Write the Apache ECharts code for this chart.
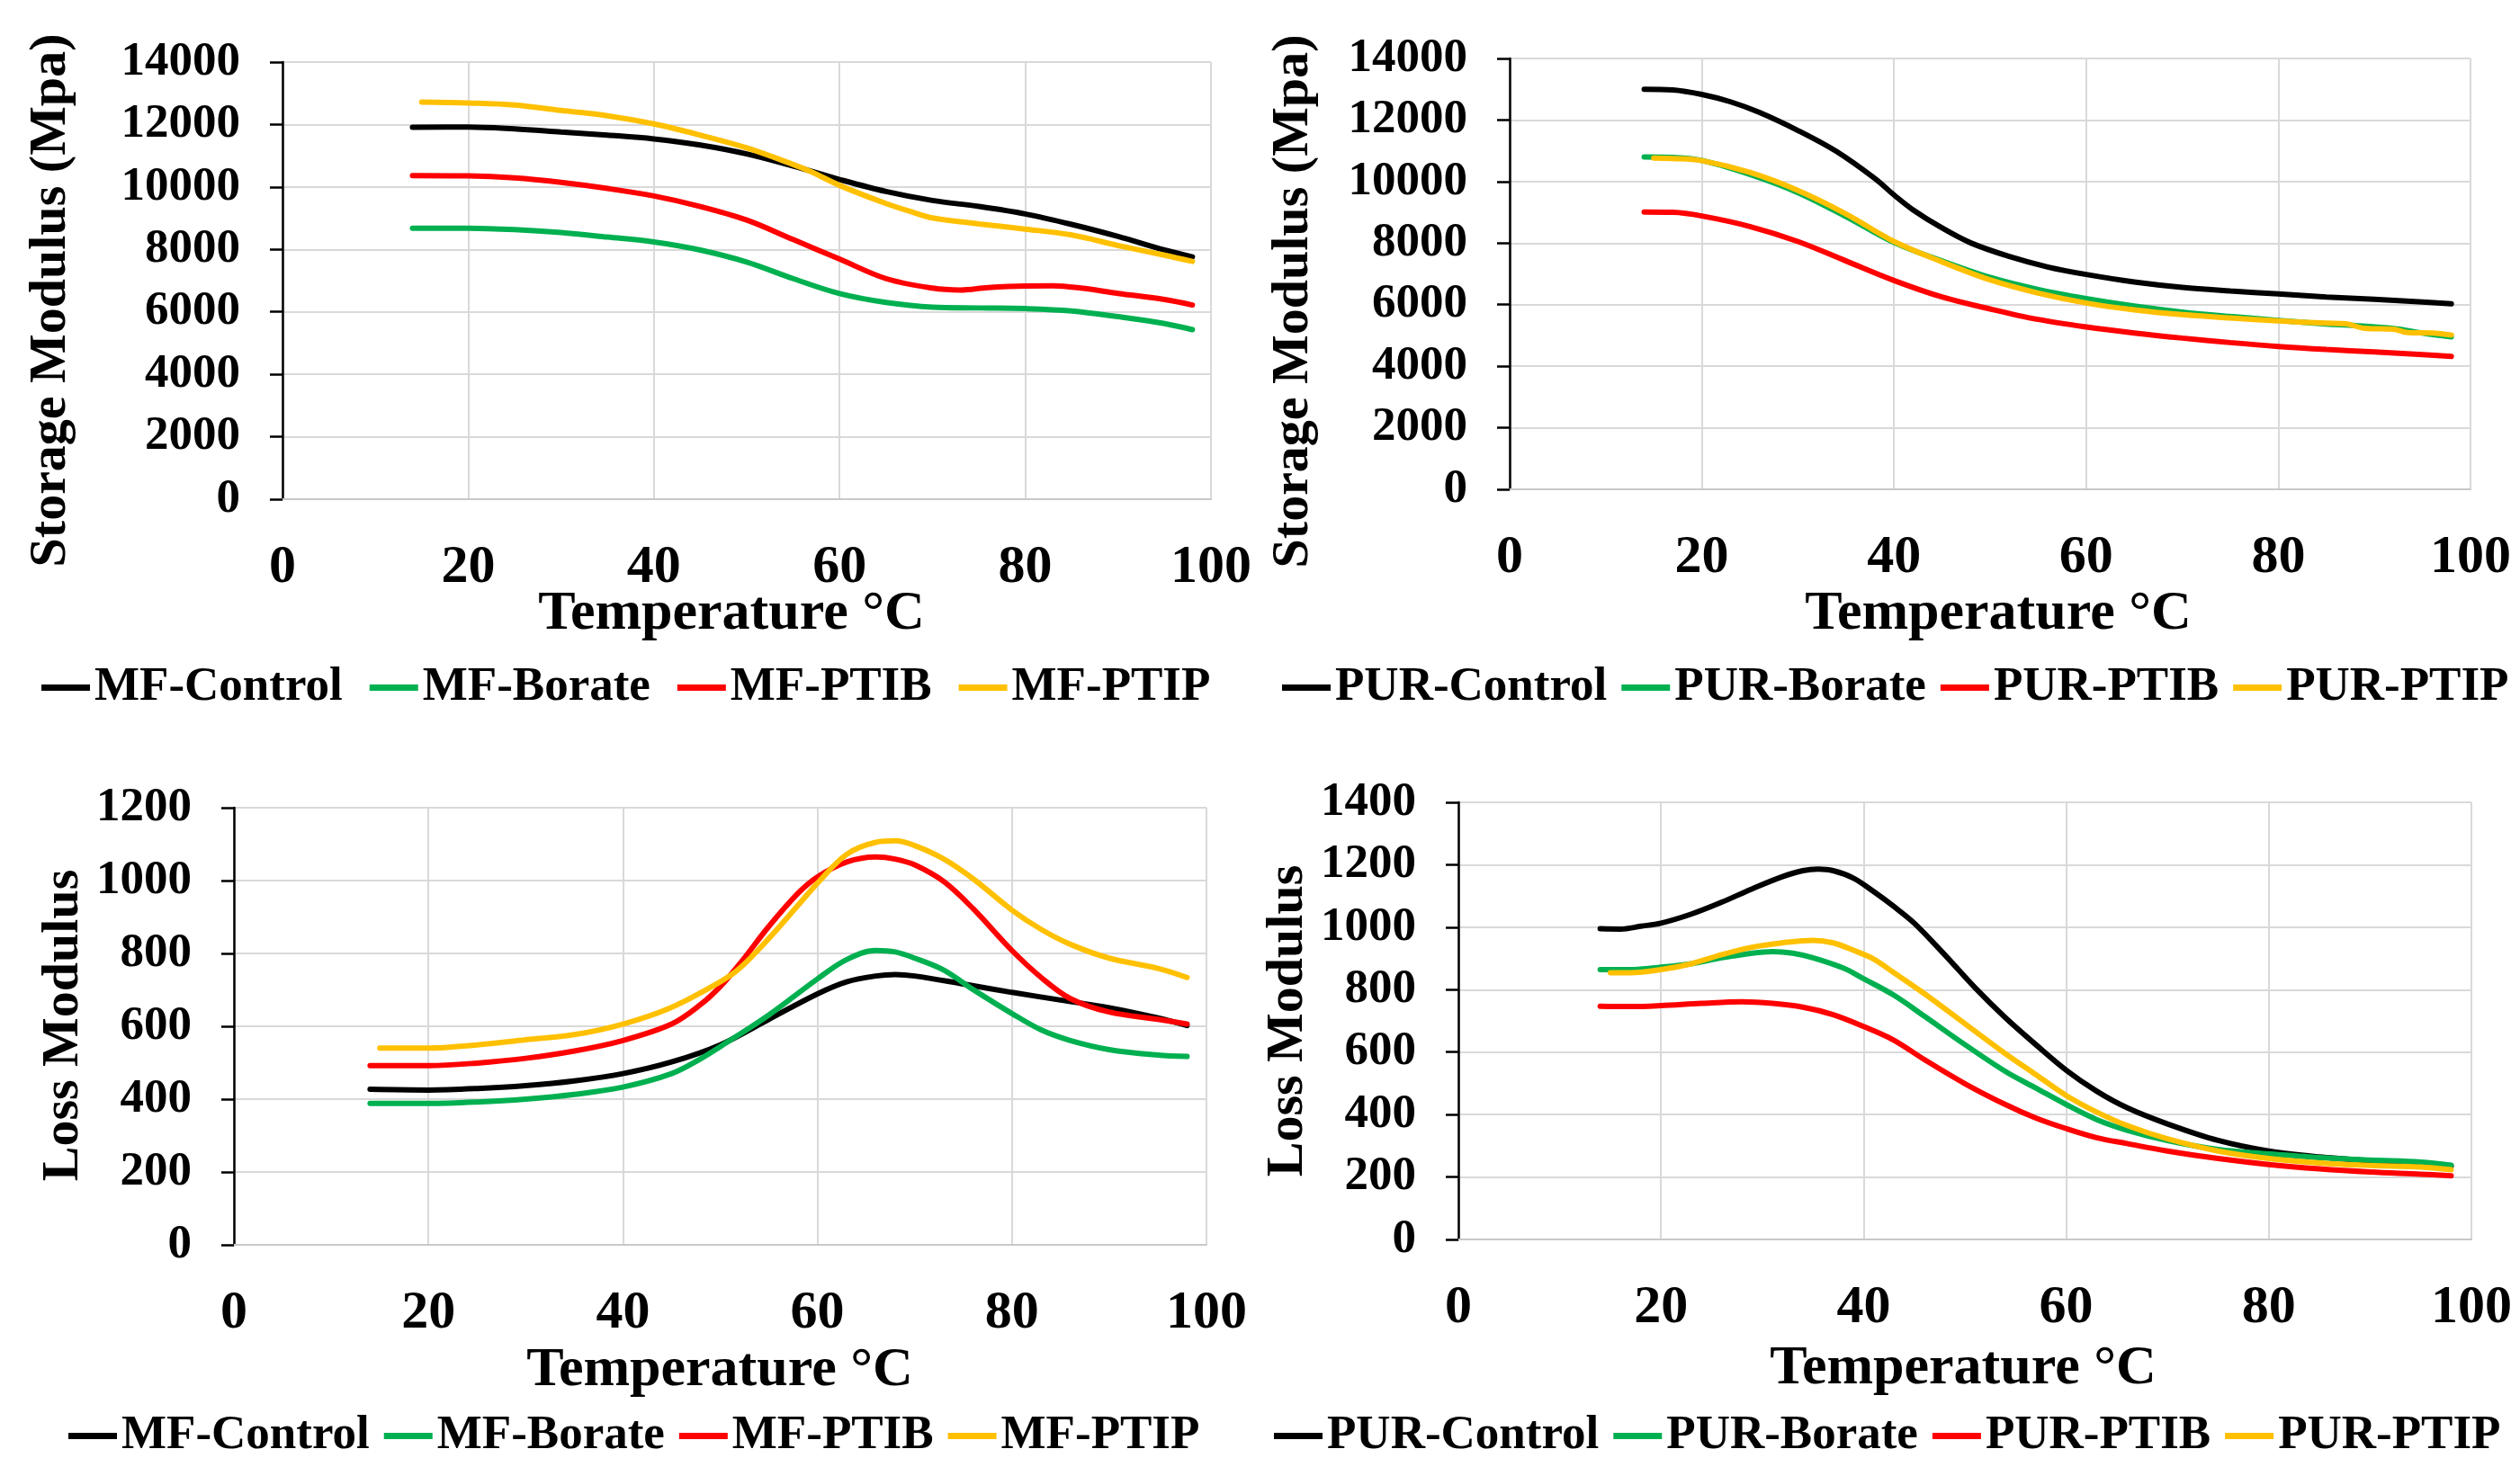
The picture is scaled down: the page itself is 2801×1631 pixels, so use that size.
<!DOCTYPE html>
<html>
<head>
<meta charset="utf-8">
<script src="https://cdn.jsdelivr.net/npm/echarts@6/dist/echarts.min.js"></script>
<style>
html,body{margin:0;padding:0;background:#fff;}
#chart{width:2801px;height:1631px;}
</style>
</head>
<body>
<div id="chart"></div>
<script>
// ---------- tick labels / axes ----------
const xTicks = [0, 20, 40, 60, 80, 100];
const storageTicks = [0, 2000, 4000, 6000, 8000, 10000, 12000, 14000];
const lossMFTicks = [0, 200, 400, 600, 800, 1000, 1200];
const lossPURTicks = [0, 200, 400, 600, 800, 1000, 1200, 1400];

const xTitle = 'Temperature °C';
const storageTitle = 'Storage Modulus (Mpa)';
const lossTitle = 'Loss Modulus';

const mfNames = ['MF-Control', 'MF-Borate', 'MF-PTIB', 'MF-PTIP'];
const purNames = ['PUR-Control', 'PUR-Borate', 'PUR-PTIB', 'PUR-PTIP'];

// ---------- Panel 1: MF storage modulus ----------
const sMFControlT = [14, 20, 25, 30, 35, 40, 45, 50, 55, 60, 65, 70, 75, 80, 85, 90, 95, 98];
const sMFControl  = [11910, 11920, 11860, 11760, 11660, 11540, 11345, 11060, 10670, 10240, 9855, 9567, 9375, 9135, 8800, 8413, 7980, 7760];
const sMFBorateT  = [14, 20, 25, 30, 35, 40, 45, 50, 55, 60, 65, 70, 75, 80, 85, 90, 95, 98];
const sMFBorate   = [8680, 8680, 8635, 8540, 8395, 8240, 7980, 7595, 7065, 6585, 6300, 6150, 6125, 6105, 6030, 5845, 5625, 5430];
const sMFPTIBT    = [14, 20, 25, 30, 35, 40, 45, 50, 55, 60, 65, 70, 73, 76, 80, 83, 86, 90, 95, 98];
const sMFPTIB     = [10365, 10355, 10290, 10145, 9950, 9710, 9375, 8940, 8315, 7690, 7065, 6760, 6700, 6780, 6830, 6835, 6760, 6590, 6395, 6220];
const sMFPTIPT    = [15, 20, 25, 30, 35, 40, 45, 50, 55, 57, 60, 65, 68, 70, 75, 80, 85, 90, 95, 98];
const sMFPTIP     = [12720, 12690, 12625, 12450, 12280, 12020, 11660, 11250, 10720, 10480, 10050, 9470, 9180, 9010, 8817, 8650, 8460, 8125, 7815, 7615];

// ---------- Panel 2: PUR storage modulus ----------
const sPURControlT = [14, 17, 20, 23, 26, 30, 34, 38, 40, 42, 45, 48, 52, 56, 60, 65, 70, 75, 80, 85, 90, 95, 98];
const sPURControl  = [13000, 12977, 12830, 12590, 12246, 11660, 10980, 10100, 9565, 9077, 8492, 8005, 7566, 7225, 6981, 6737, 6561, 6445, 6347, 6250, 6172, 6084, 6025];
const sPURBorateT  = [14, 17, 20, 25, 30, 35, 40, 45, 50, 55, 60, 65, 70, 75, 80, 85, 88, 92, 95, 98];
const sPURBorate   = [10800, 10783, 10686, 10230, 9640, 8860, 8020, 7420, 6884, 6494, 6200, 5957, 5762, 5616, 5489, 5372, 5323, 5226, 5080, 4953];
const sPURPTIBT    = [14, 17, 20, 25, 30, 35, 40, 45, 50, 55, 60, 65, 70, 75, 80, 85, 90, 95, 98];
const sPURPTIB     = [9009, 9000, 8882, 8541, 8053, 7420, 6786, 6250, 5860, 5519, 5275, 5080, 4914, 4768, 4641, 4544, 4466, 4378, 4320];
const sPURPTIPT    = [15, 17, 20, 25, 30, 35, 40, 45, 50, 55, 60, 65, 70, 75, 80, 85, 87, 89, 92, 93.5, 96, 98];
const sPURPTIP     = [10764, 10750, 10680, 10296, 9711, 8950, 8053, 7390, 6805, 6376, 6055, 5830, 5675, 5567, 5470, 5400, 5380, 5230, 5200, 5090, 5080, 5010];

// ---------- Panel 3: MF loss modulus ----------
const lMFControlT = [14, 20, 25, 30, 35, 40, 45, 50, 55, 60, 63, 66, 68, 70, 75, 80, 85, 90, 95, 98];
const lMFControl  = [427, 425, 429, 437, 450, 470, 502, 549, 619, 689, 722, 738, 742, 738, 716, 693, 672, 651, 623, 602];
const lMFBorateT  = [14, 20, 25, 30, 35, 40, 45, 48, 50, 55, 60, 63, 66, 68, 70, 73, 76, 80, 83, 86, 90, 95, 98];
const lMFBorate   = [388, 388, 392, 400, 413, 433, 470, 511, 544, 631, 730, 783, 808, 804, 787, 754, 701, 635, 590, 561, 536, 521, 517];
const lMFPTIBT    = [14, 20, 25, 30, 35, 40, 45, 48, 50, 52, 55, 58, 60, 63, 66, 68, 70, 73, 76, 80, 83, 86, 90, 95, 98];
const lMFPTIB     = [492, 492, 499, 512, 532, 561, 606, 660, 709, 771, 874, 965, 1010, 1051, 1065, 1059, 1043, 997, 923, 808, 734, 676, 639, 619, 606];
const lMFPTIPT    = [15, 20, 25, 30, 35, 40, 45, 50, 52, 55, 58, 60, 63, 66, 68, 70, 73, 76, 80, 83, 86, 90, 95, 98];
const lMFPTIP     = [540, 540, 549, 563, 577, 606, 652, 722, 759, 841, 932, 993, 1072, 1105, 1109, 1096, 1059, 1005, 919, 866, 825, 787, 759, 734];

// ---------- Panel 4: PUR loss modulus ----------
const lPURControlT = [14, 16, 18, 20, 23, 26, 29, 32, 34, 35.5, 37, 39, 41, 43, 45, 48, 51, 54, 57, 60, 63, 66, 70, 75, 80, 85, 90, 95, 98];
const lPURControl  = [995, 994, 1003, 1013, 1042, 1080, 1123, 1162, 1181, 1186, 1181, 1157, 1114, 1066, 1013, 912, 806, 710, 624, 542, 475, 422, 370, 317, 283, 264, 252, 242, 235];
const lPURBorateT  = [14, 17, 20, 23, 26, 29, 31, 33, 35, 38, 40, 43, 46, 50, 54, 57, 60, 63, 66, 70, 75, 80, 85, 90, 95, 98];
const lPURBorate   = [864, 864, 872, 883, 902, 917, 922, 917, 902, 869, 835, 782, 715, 624, 538, 485, 432, 384, 350, 317, 288, 274, 262, 254, 248, 238];
const lPURPTIBT    = [14, 17, 20, 24, 28, 31, 34, 37, 40, 43, 46, 50, 54, 57, 60, 63, 66, 70, 75, 80, 85, 90, 95, 98];
const lPURPTIB     = [747, 746, 749, 756, 761, 756, 744, 720, 682, 638, 576, 499, 432, 389, 355, 326, 307, 283, 259, 240, 226, 216, 209, 204];
const lPURPTIPT    = [15, 17, 20, 23, 26, 29, 32, 35, 37, 39, 41, 43, 46, 50, 54, 57, 60, 63, 66, 70, 75, 80, 85, 90, 95, 98];
const lPURPTIP     = [854, 854, 864, 883, 912, 936, 950, 958, 950, 926, 898, 854, 787, 691, 595, 528, 461, 408, 365, 322, 283, 259, 245, 237, 232, 223];

// ---------- styling ----------
const colors = ['#000000', '#00b050', '#ff0000', '#ffc000'];
const FONT = '"Liberation Serif", "Times New Roman", serif';
const GRID_COLOR = '#d9d9d9';

const zip = (t, v) => t.map((x, i) => [x, v[i]]);

const panels = [
  { grid: {left: 314, top: 69, width: 1032, height: 486}, ticks: storageTicks, names: mfNames,
    data: [[sMFControlT, sMFControl], [sMFBorateT, sMFBorate], [sMFPTIBT, sMFPTIB], [sMFPTIPT, sMFPTIP]],
    legend: {left: 46, top: 738, gap: 30}, yTitle: storageTitle, yTitlePos: [57, 334], xTitlePos: [813, 683] },
  { grid: {left: 1678, top: 65, width: 1068, height: 479}, ticks: storageTicks, names: purNames,
    data: [[sPURControlT, sPURControl], [sPURBorateT, sPURBorate], [sPURPTIBT, sPURPTIB], [sPURPTIPT, sPURPTIP]],
    legend: {left: 1425, top: 738, gap: 16}, yTitle: storageTitle, yTitlePos: [1438, 335], xTitlePos: [2221, 683] },
  { grid: {left: 260, top: 898, width: 1081, height: 486}, ticks: lossMFTicks, names: mfNames,
    data: [[lMFControlT, lMFControl], [lMFBorateT, lMFBorate], [lMFPTIBT, lMFPTIB], [lMFPTIPT, lMFPTIP]],
    legend: {left: 76, top: 1570, gap: 16}, yTitle: lossTitle, yTitlePos: [71, 1140], xTitlePos: [800, 1524] },
  { grid: {left: 1621, top: 892, width: 1126, height: 486}, ticks: lossPURTicks, names: purNames,
    data: [[lPURControlT, lPURControl], [lPURBorateT, lPURBorate], [lPURPTIBT, lPURPTIB], [lPURPTIPT, lPURPTIP]],
    legend: {left: 1416, top: 1570, gap: 16}, yTitle: lossTitle, yTitlePos: [1432, 1135], xTitlePos: [2182, 1522] }
];

const option = {
  backgroundColor: '#ffffff',
  animation: false,
  grid: [], xAxis: [], yAxis: [], series: [], legend: [], graphic: []
};

panels.forEach((p, pi) => {
  option.grid.push(Object.assign({containLabel: false}, p.grid));
  option.xAxis.push({
    type: 'value', gridIndex: pi,
    min: xTicks[0], max: xTicks[xTicks.length - 1], interval: xTicks[1] - xTicks[0],
    axisLine: {show: true, onZero: false, lineStyle: {color: '#c8c8c8', width: 2}},
    axisTick: {show: false},
    axisLabel: {margin: 46, color: '#000', fontFamily: FONT, fontWeight: 'bold', fontSize: 60, formatter: v => String(v)},
    splitLine: {show: true, lineStyle: {color: GRID_COLOR, width: 2}}
  });
  option.yAxis.push({
    type: 'value', gridIndex: pi,
    min: p.ticks[0], max: p.ticks[p.ticks.length - 1], interval: p.ticks[1] - p.ticks[0],
    axisLine: {show: true, onZero: false, lineStyle: {color: '#000', width: 2.5}},
    axisTick: {show: true, inside: false, length: 14, lineStyle: {color: '#000', width: 2.5}},
    axisLabel: {margin: 47, color: '#000', fontFamily: FONT, fontWeight: 'bold', fontSize: 53, formatter: v => String(v)},
    splitLine: {show: true, lineStyle: {color: GRID_COLOR, width: 2}}
  });
  p.data.forEach((d, si) => {
    option.series.push({
      type: 'line', name: p.names[si], xAxisIndex: pi, yAxisIndex: pi,
      data: zip(d[0], d[1]), smooth: 0.35, showSymbol: false, symbol: 'none',
      lineStyle: {color: colors[si], width: 6, cap: 'round'},
      itemStyle: {color: colors[si]}
    });
  });
  option.legend.push({
    data: p.names.map(n => ({name: n, icon: 'path://M0,0 L54,0 L54,7 L0,7 Z'})),
    left: p.legend.left, top: p.legend.top, width: 1450, orient: 'horizontal', padding: 0,
    itemWidth: 54, itemHeight: 7, itemGap: p.legend.gap,
    textStyle: {color: '#000', fontFamily: FONT, fontWeight: 'bold', fontSize: 53},
    selectedMode: false
  });
  option.graphic.push({
    type: 'text', x: p.yTitlePos[0], y: p.yTitlePos[1], rotation: Math.PI / 2,
    style: {text: p.yTitle, fill: '#000', fontFamily: FONT, fontWeight: 'bold', fontSize: 58, align: 'center', verticalAlign: 'middle'}
  });
  option.graphic.push({
    type: 'text', x: p.xTitlePos[0], y: p.xTitlePos[1],
    style: {text: xTitle, fill: '#000', fontFamily: FONT, fontWeight: 'bold', fontSize: 62, align: 'center', verticalAlign: 'middle'}
  });
});

const chart = echarts.init(document.getElementById('chart'), null, {renderer: 'canvas', width: 2801, height: 1631});
chart.setOption(option);
</script>
</body>
</html>
